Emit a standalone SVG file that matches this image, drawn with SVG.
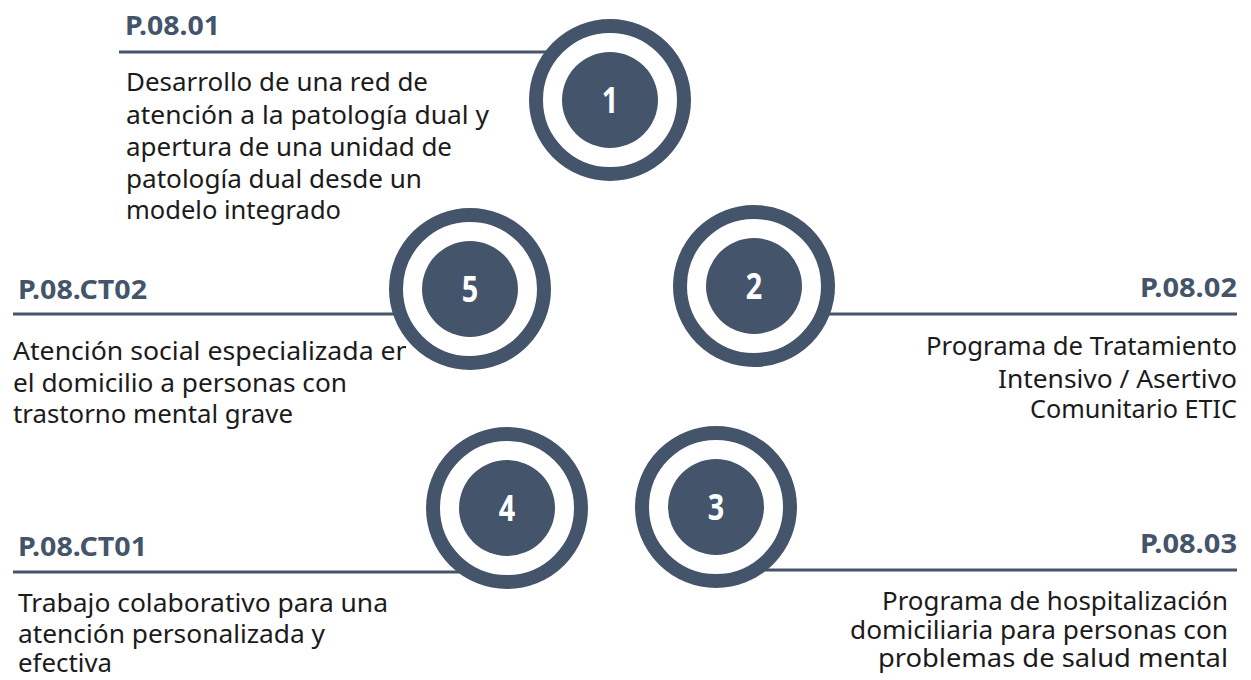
<svg xmlns="http://www.w3.org/2000/svg" width="1251" height="680" viewBox="0 0 1251 680">
<style>
.title{font-family:"Noto Sans","Open Sans",sans-serif;font-weight:700;font-size:27px;fill:#44546a}
.body{font-family:"Noto Sans","Open Sans",sans-serif;font-size:26px;fill:#1b1b1b}
.num{font-family:"Noto Sans","Open Sans",sans-serif;font-weight:700;font-size:36px;fill:#ffffff;text-anchor:middle}
.rule{stroke:#44546a;stroke-width:3;fill:none}
.ring{fill:#ffffff;stroke:#44546a;stroke-width:14}
.disk{fill:#44546a}
</style>
<defs>
<clipPath id="clip-ct02"><rect x="0" y="330" width="406" height="110"/></clipPath>
</defs>
<rect width="1251" height="680" fill="#ffffff"/>
<g id="connectors">
<line class="rule" x1="119" y1="52" x2="560" y2="52"/>
<line class="rule" x1="13" y1="314" x2="400" y2="314"/>
<line class="rule" x1="820" y1="314" x2="1237" y2="314"/>
<line class="rule" x1="13" y1="572" x2="470" y2="572"/>
<line class="rule" x1="760" y1="570" x2="1237" y2="570"/>
</g>
<g id="text-p0801">
<text class="title" x="125" y="35" textLength="95" lengthAdjust="spacingAndGlyphs">P.08.01</text>
<text class="body" x="126" y="91" textLength="302" lengthAdjust="spacingAndGlyphs">Desarrollo de una red de</text>
<text class="body" x="126" y="124" textLength="363" lengthAdjust="spacingAndGlyphs">atención a la patología dual y</text>
<text class="body" x="126" y="156" textLength="326" lengthAdjust="spacingAndGlyphs">apertura de una unidad de</text>
<text class="body" x="126" y="188" textLength="296" lengthAdjust="spacingAndGlyphs">patología dual desde un</text>
<text class="body" x="126" y="219" textLength="215" lengthAdjust="spacingAndGlyphs">modelo integrado</text>
</g>
<g id="text-p08ct02">
<text class="title" x="18" y="299" textLength="129" lengthAdjust="spacingAndGlyphs">P.08.CT02</text>
<g clip-path="url(#clip-ct02)">
<text class="body" x="13" y="360" textLength="399" lengthAdjust="spacingAndGlyphs">Atención social especializada en</text>
<text class="body" x="13" y="392" textLength="334" lengthAdjust="spacingAndGlyphs">el domicilio a personas con</text>
<text class="body" x="13" y="423" textLength="280" lengthAdjust="spacingAndGlyphs">trastorno mental grave</text>
</g>
</g>
<g id="text-p0802">
<text class="title" x="1140" y="297" textLength="97" lengthAdjust="spacingAndGlyphs">P.08.02</text>
<text class="body" x="926" y="355" textLength="311" lengthAdjust="spacingAndGlyphs">Programa de Tratamiento</text>
<text class="body" x="998" y="388" textLength="239" lengthAdjust="spacingAndGlyphs">Intensivo / Asertivo</text>
<text class="body" x="1030" y="418" textLength="207" lengthAdjust="spacingAndGlyphs">Comunitario ETIC</text>
</g>
<g id="text-p08ct01">
<text class="title" x="18" y="556" textLength="129" lengthAdjust="spacingAndGlyphs">P.08.CT01</text>
<text class="body" x="18" y="612" textLength="370" lengthAdjust="spacingAndGlyphs">Trabajo colaborativo para una</text>
<text class="body" x="18" y="643" textLength="307" lengthAdjust="spacingAndGlyphs">atención personalizada y</text>
<text class="body" x="18" y="672" textLength="94" lengthAdjust="spacingAndGlyphs">efectiva</text>
</g>
<g id="text-p0803">
<text class="title" x="1140" y="553" textLength="97" lengthAdjust="spacingAndGlyphs">P.08.03</text>
<text class="body" x="882" y="610" textLength="346" lengthAdjust="spacingAndGlyphs">Programa de hospitalización</text>
<text class="body" x="850" y="639" textLength="378" lengthAdjust="spacingAndGlyphs">domiciliaria para personas con</text>
<text class="body" x="878" y="667" textLength="350" lengthAdjust="spacingAndGlyphs">problemas de salud mental</text>
</g>
<g id="node-1">
<circle class="ring" cx="610" cy="100" r="74"/>
<circle class="disk" cx="610" cy="100" r="48"/>
<text class="num" transform="translate(610 113) scale(0.8 1)">1</text>
</g>
<g id="node-2">
<circle class="ring" cx="754" cy="286" r="74"/>
<circle class="disk" cx="754" cy="286" r="48"/>
<text class="num" transform="translate(754 299) scale(0.8 1)">2</text>
</g>
<g id="node-3">
<circle class="ring" cx="716" cy="507" r="74"/>
<circle class="disk" cx="716" cy="507" r="48"/>
<text class="num" transform="translate(716 520) scale(0.8 1)">3</text>
</g>
<g id="node-4">
<circle class="ring" cx="507" cy="508" r="74"/>
<circle class="disk" cx="507" cy="508" r="48"/>
<text class="num" transform="translate(507 521) scale(0.8 1)">4</text>
</g>
<g id="node-5">
<circle class="ring" cx="470" cy="289" r="74"/>
<circle class="disk" cx="470" cy="289" r="48"/>
<text class="num" transform="translate(470 302) scale(0.8 1)">5</text>
</g>
</svg>
